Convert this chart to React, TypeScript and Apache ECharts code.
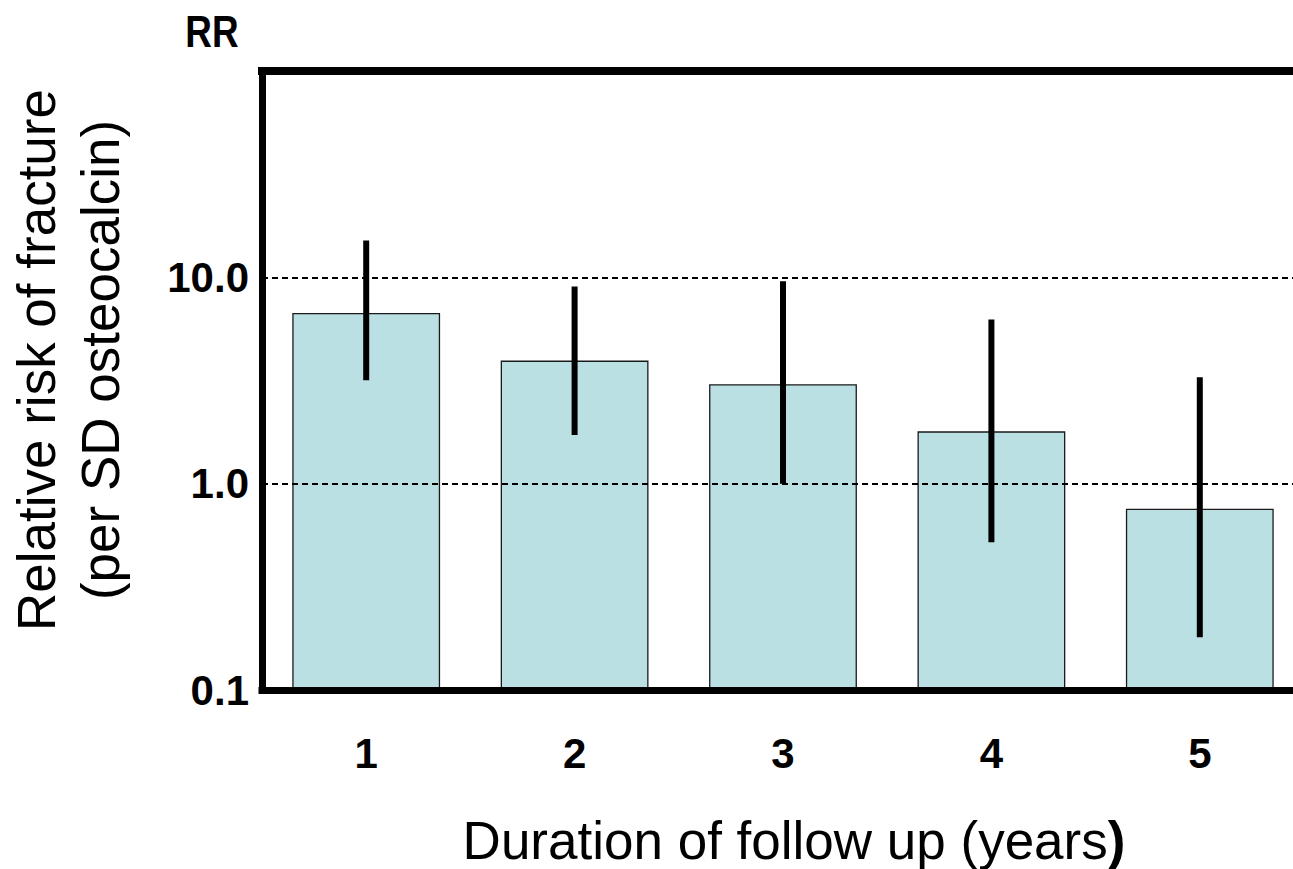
import React, { useEffect, useRef } from "react";
import * as echarts from "echarts";

const categories = ["1", "2", "3", "4", "5"];
const relativeRisk = [6.67, 3.92, 3.01, 1.78, 0.75];
const ciLow = [3.17, 1.72, 1.0, 0.52, 0.18];
const ciHigh = [15.1, 9.03, 9.57, 6.24, 3.28];
const yMin = 0.1;
const yMax = 100;

const boldFont = "'Liberation Sans', Arial, sans-serif";
const regular = "'Liberation Sans', Arial, sans-serif";

export default function App() {
  const ref = useRef<HTMLDivElement>(null);
  useEffect(() => {
    if (!ref.current) return;
    const chart = echarts.init(ref.current, null, { renderer: "svg" });
    const barData = categories.map((c, i) => [i, relativeRisk[i]]);
    const errData = categories.map((c, i) => [i, ciLow[i], ciHigh[i]]);
    const option: any = {
      animation: false,
      backgroundColor: "#ffffff",
      grid: {
        left: 262,
        width: 1042,
        top: 71,
        height: 619,
        containLabel: false,
        outerBoundsMode: "none",
      },
      xAxis: [
        {
          type: "category",
          data: categories,
          position: "bottom",
          z: 10,
          axisLine: { show: true, lineStyle: { color: "#000", width: 7, cap: "square" } },
          axisTick: { show: false },
          axisLabel: {
            margin: 42,
            color: "#000",
            fontFamily: boldFont,
            fontWeight: "bold",
            fontSize: 42,
          },
          splitLine: { show: false },
        },
        {
          type: "category",
          data: categories,
          position: "top",
          z: 10,
          axisLine: { show: true, lineStyle: { color: "#000", width: 8, cap: "square" } },
          axisTick: { show: false },
          axisLabel: { show: false },
          splitLine: { show: false },
        },
      ],
      yAxis: {
        type: "log",
        logBase: 10,
        min: yMin,
        max: yMax,
        z: 10,
        axisLine: { show: true, lineStyle: { color: "#000", width: 7, cap: "square" } },
        axisTick: { show: false },
        minorTick: { show: false },
        axisLabel: {
          margin: 13,
          color: "#000",
          fontFamily: boldFont,
          fontWeight: "bold",
          fontSize: 42,
          padding: [0, 0, 12, 0],
          formatter: (v: number) => (Math.abs(v - yMax) < 1e-6 ? "" : Number(v).toFixed(1)),
        },
        splitLine: { show: true, lineStyle: { color: "#000", width: 2, type: [6, 4] } },
      },
      series: [
        {
          type: "custom",
          z: 2,
          data: barData,
          renderItem: (params: any, api: any) => {
            const idx = api.value(0);
            const v = api.value(1);
            const top = api.coord([idx, v]);
            const base = api.coord([idx, yMin]);
            const band = api.size([1, 1])[0];
            const w = band * 0.703;
            return {
              type: "rect",
              shape: { x: top[0] - w / 2, y: top[1], width: w, height: base[1] - top[1] },
              style: { fill: "#BBE0E3", stroke: "#1a1a1a", lineWidth: 1.3 },
            };
          },
        },
        {
          type: "custom",
          z: 3,
          data: errData,
          renderItem: (params: any, api: any) => {
            const idx = api.value(0);
            const lo = api.coord([idx, api.value(1)]);
            const hi = api.coord([idx, api.value(2)]);
            return {
              type: "line",
              shape: { x1: lo[0], y1: lo[1], x2: hi[0], y2: hi[1] },
              style: { stroke: "#000", lineWidth: 6, lineCap: "butt" },
            };
          },
        },
      ],
      graphic: [
        {
          type: "text",
          x: 212,
          y: 32,
          scaleX: 0.82,
          style: {
            text: "RR",
            fill: "#000",
            font: `bold 45px ${boldFont}`,
            align: "center",
            verticalAlign: "middle",
          },
        },
        {
          type: "text",
          x: 36,
          y: 360,
          rotation: Math.PI / 2,
          style: {
            text: "Relative risk of fracture",
            fill: "#000",
            font: `53px ${regular}`,
            align: "center",
            verticalAlign: "middle",
          },
        },
        {
          type: "text",
          x: 100,
          y: 360,
          rotation: Math.PI / 2,
          style: {
            text: "(per SD osteocalcin)",
            fill: "#000",
            font: `53px ${regular}`,
            align: "center",
            verticalAlign: "middle",
          },
        },
        {
          type: "text",
          x: 794,
          y: 840,
          style: {
            text: "{n|Duration of follow up (years}{b|)}",
            align: "center",
            verticalAlign: "middle",
            rich: {
              n: { fontFamily: regular, fontSize: 53, color: "#000" },
              b: { fontFamily: regular, fontSize: 53, fontWeight: "bold", color: "#000" },
            },
          },
        },
      ],
    };
    chart.setOption(option);
    return () => chart.dispose();
  }, []);
  return (
    <div
      ref={ref}
      style={{ position: "absolute", left: 0, top: 0, width: 1293, height: 869 }}
    />
  );
}
